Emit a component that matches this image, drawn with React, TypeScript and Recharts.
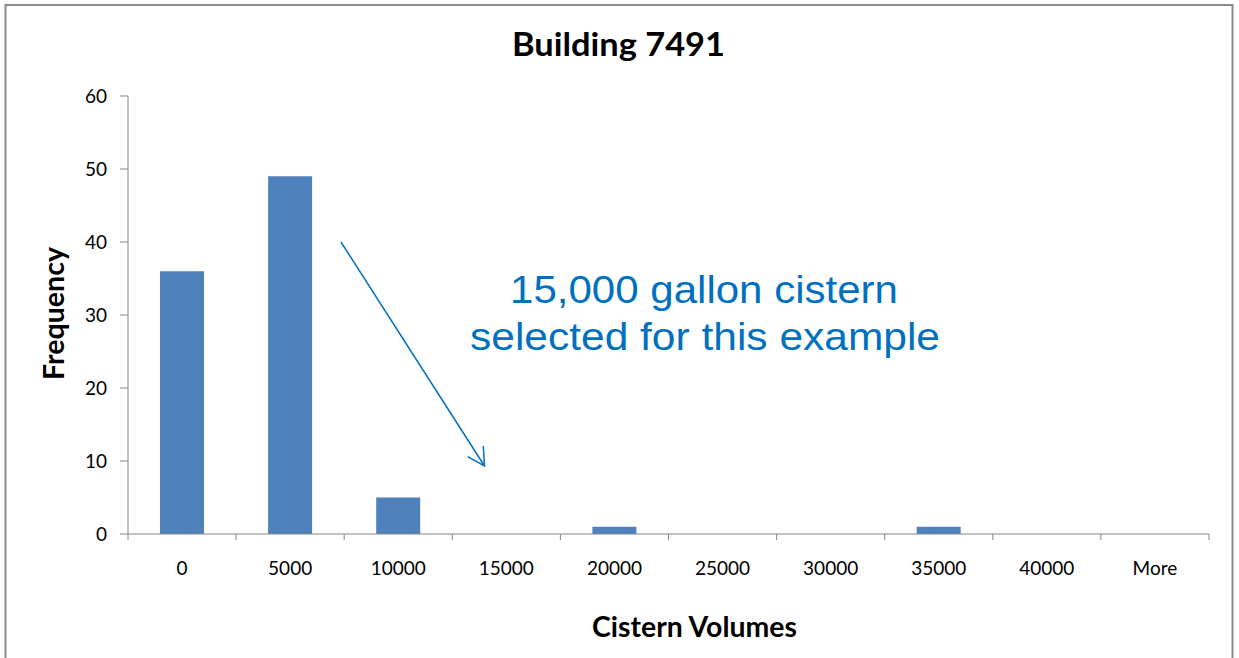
import React from 'react';
import { BarChart, Bar, XAxis, YAxis, Customized } from 'recharts';

// ---- data ----
const categories = ['0', '5000', '10000', '15000', '20000', '25000', '30000', '35000', '40000', 'More'];
const frequencies = [36, 49, 5, 0, 1, 0, 0, 1, 0, 0];
const yTicks = [0, 10, 20, 30, 40, 50, 60];
const titleText = 'Building 7491';
const xTitle = 'Cistern Volumes';
const yTitle = 'Frequency';
const noteLines = ['15,000 gallon cistern', 'selected for this example'];

const data = categories.map((c, i) => ({ bin: c, frequency: frequencies[i] }));

// ---- layout ----
const W = 1239;
const H = 658;
const PLOT_LEFT = 128;
const PLOT_RIGHT = 1209;
const PLOT_TOP = 96;
const PLOT_BOTTOM = 534;
const BAND = (PLOT_RIGHT - PLOT_LEFT) / categories.length;
const AXIS_COLOR = '#868686';
const BAR_COLOR = '#4F81BD';
const BLUE = '#0070C0';
const FONT = 'Lato, "Open Sans", sans-serif';

function XTick(props: any) {
  const { x, y, payload, index } = props;
  const left = x - BAND / 2;
  const right = x + BAND / 2;
  return (
    <g>
      <line x1={left} x2={left} y1={y} y2={y + 6} stroke={AXIS_COLOR} strokeWidth={1} />
      {index === categories.length - 1 && (
        <line x1={right} x2={right} y1={y} y2={y + 6} stroke={AXIS_COLOR} strokeWidth={1} />
      )}
      <text x={x} y={y + 34} dy="0.35em" textAnchor="middle" fontFamily={FONT} fontSize={19} fill="#000">
        {payload.value}
      </text>
    </g>
  );
}

function Overlay() {
  return (
    <g>
      <rect x={5.5} y={5} width={1227} height={800} fill="none" stroke="#8a8a8a" strokeWidth={2} />
      <text
        x={618.5}
        y={56}
        textAnchor="middle"
        fontFamily={FONT}
        fontWeight={700}
        fontSize={32}
        fill="#000"
        textLength={213}
        lengthAdjust="spacingAndGlyphs"
      >
        {titleText}
      </text>
      <text
        x={694.5}
        y={636.5}
        textAnchor="middle"
        fontFamily={FONT}
        fontWeight={700}
        fontSize={28}
        fill="#000"
        textLength={205}
        lengthAdjust="spacingAndGlyphs"
      >
        {xTitle}
      </text>
      <text
        x={63.5}
        y={313.5}
        transform="rotate(-90 63.5 313.5)"
        textAnchor="middle"
        fontFamily={FONT}
        fontWeight={700}
        fontSize={29}
        fill="#000"
        textLength={133}
        lengthAdjust="spacingAndGlyphs"
      >
        {yTitle}
      </text>
      <text
        x={704}
        y={303}
        textAnchor="middle"
        fontFamily='"Liberation Sans", Arial, sans-serif'
        fontSize={38}
        fill={BLUE}
        textLength={388}
        lengthAdjust="spacingAndGlyphs"
      >
        {noteLines[0]}
      </text>
      <text
        x={705}
        y={350}
        textAnchor="middle"
        fontFamily='"Liberation Sans", Arial, sans-serif'
        fontSize={38}
        fill={BLUE}
        textLength={470}
        lengthAdjust="spacingAndGlyphs"
      >
        {noteLines[1]}
      </text>
      <line x1={341} y1={242} x2={484.5} y2={466} stroke={BLUE} strokeWidth={1.5} />
      <polyline
        points="467.7,456.7 484.5,466 483.3,446"
        fill="none"
        stroke={BLUE}
        strokeWidth={1.5}
      />
    </g>
  );
}

export default function App() {
  return (
    <div style={{ position: 'absolute', left: 0, top: 0, width: W, height: H, background: '#fff' }}>
      <BarChart
        width={W}
        height={H}
        data={data}
        margin={{ top: PLOT_TOP, right: W - PLOT_RIGHT, bottom: H - PLOT_BOTTOM - 40, left: 0 }}
      >
        <XAxis
          dataKey="bin"
          type="category"
          height={40}
          axisLine={{ stroke: AXIS_COLOR, strokeWidth: 1 }}
          tickLine={false}
          tickSize={0}
          tickMargin={0}
          interval={0}
          tick={<XTick />}
        />
        <YAxis
          type="number"
          domain={[0, 60]}
          ticks={yTicks}
          width={PLOT_LEFT}
          axisLine={{ stroke: AXIS_COLOR, strokeWidth: 1 }}
          tickLine={{ stroke: AXIS_COLOR, strokeWidth: 1 }}
          tickSize={8}
          tickMargin={13}
          tick={{ fill: '#000', fontSize: 19, fontFamily: FONT }}
        />
        <Bar dataKey="frequency" fill={BAR_COLOR} barSize={44} isAnimationActive={false} />
        <Customized component={Overlay} />
      </BarChart>
    </div>
  );
}
